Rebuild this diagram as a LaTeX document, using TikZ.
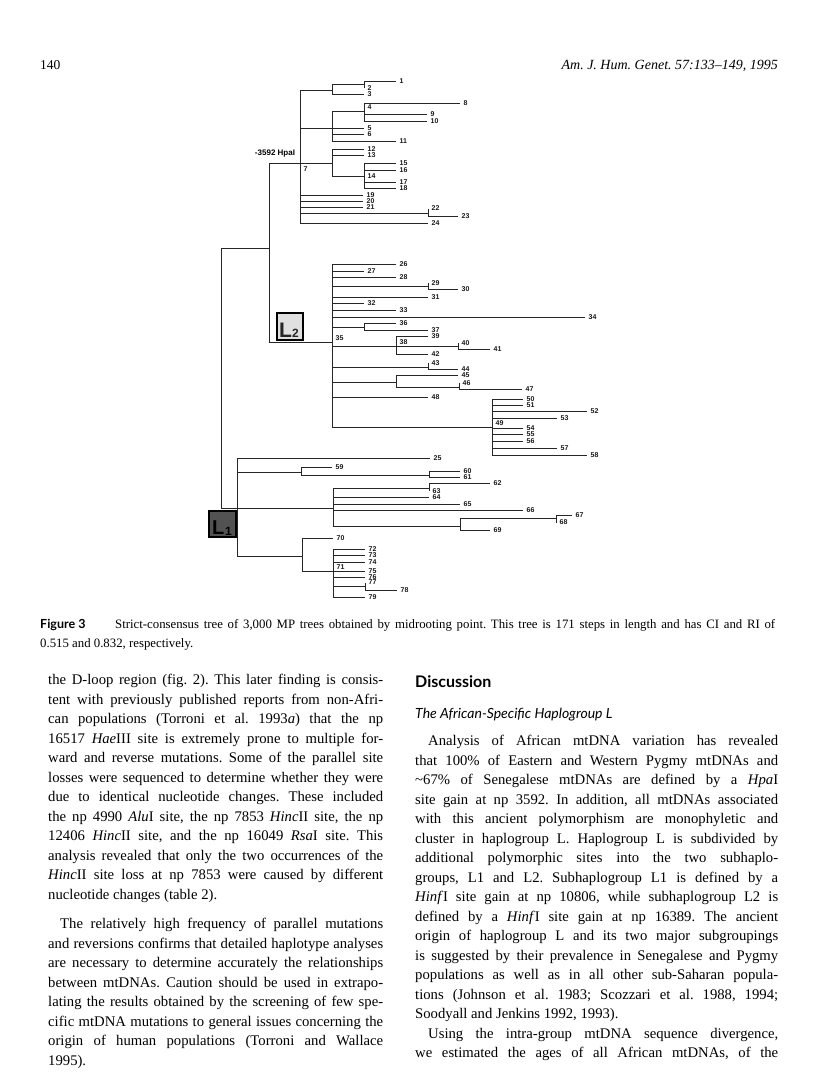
\documentclass[tikz,border=0pt]{standalone}
\usepackage{fontspec}
\setmainfont{Liberation Serif}
\newfontfamily\treefont{Liberation Sans}
\newfontfamily\headfont{Lato}
\frenchspacing
\newcommand\lf[4]{\coordinate (#1) at (#2,#3); \node[lab] (#1l) at (#1) {#4};}
\newcommand\jline[5]{\node[txt] (#1) at (#2,#3) {\makebox[#4pt][s]{#5}};}
\newcommand\pline[4]{\node[txt] (#1) at (#2,#3) {#4};}
\begin{document}
\begin{tikzpicture}[x=1pt,y=-1pt,
  edge/.style={line width=0.8pt, draw=black!85},
  lab/.style={font=\treefont\bfseries\fontsize{7}{8}\selectfont, anchor=west, inner sep=0pt, xshift=3.5pt, text=black!90},
  txt/.style={font=\fontsize{14.7}{16}\selectfont, anchor=base west, inner sep=0pt},
  capt/.style={font=\fontsize{12.8}{14}\selectfont, anchor=base west, inner sep=0pt},
]
\fill[white] (0,0) rectangle (816,1081);
\useasboundingbox (0,0) rectangle (816,1081);

% ---------- header ----------
\node[txt, font=\fontsize{13.5}{15}\selectfont] (pg) at (40,70) {140};
\node[txt, anchor=base east, font=\fontsize{14}{15}\selectfont\itshape] (jr) at (778,70) {Am. J. Hum. Genet. 57:133--149, 1995};

% ---------- tree: internal nodes ----------
\coordinate (root) at (221,378);
\coordinate (R2) at (269,248);
\coordinate (N7) at (300,163);
\coordinate (A) at (332,90);
\coordinate (A1) at (364,84);
\coordinate (B) at (332,128);
\coordinate (C) at (364,111);
\coordinate (D) at (332,163);
\coordinate (E) at (364,176);
\coordinate (N22) at (428,213);
\coordinate (N35) at (332,342);
\coordinate (N29) at (428,286);
\coordinate (N36) at (364,327);
\coordinate (N38) at (396,346);
\coordinate (N40) at (458,346);
\coordinate (N43) at (428,367);
\coordinate (N45) at (396,382);
\coordinate (N46) at (459,387);
\coordinate (N49) at (492,427);
\coordinate (L1) at (237,508);
\coordinate (N59) at (301,472);
\coordinate (N60) at (429,475);
\coordinate (N62) at (333,508);
\coordinate (N63) at (429,488);
\coordinate (N67) at (460,526);
\coordinate (N68) at (556,518);
\coordinate (N70) at (302,556);
\coordinate (N71) at (333,571.5);
\coordinate (N77) at (365,586.5);

% ---------- leaves ----------
\lf{t1}{396}{81}{1}
\lf{z2}{364}{88}{2}
\lf{t3}{364}{94}{3}
\lf{t8}{460}{103}{8}
\node[lab] (z4) at (364,107.5) {4};
\lf{t9}{427}{114}{9}
\lf{t10}{427}{121}{10}
\lf{t5}{364}{128}{5}
\lf{t6}{364}{134}{6}
\lf{t11}{396}{141}{11}
\lf{t12}{364}{149}{12}
\lf{t13}{364}{155}{13}
\node[lab] (z14) at (364,176) {14};
\lf{t15}{396}{163}{15}
\lf{t16}{396}{170}{16}
\lf{t17}{396}{182}{17}
\lf{t18}{396}{188}{18}
\node[lab] (z7) at (300,169.5) {7};
\lf{t19}{363}{195}{19}
\lf{t20}{363}{201}{20}
\lf{t21}{363}{207}{21}
\lf{z22}{428}{208.5}{22}
\lf{t23}{458}{216}{23}
\lf{t24}{428}{223}{24}
\lf{t26}{396}{264}{26}
\lf{t27}{364}{271}{27}
\lf{t28}{396}{277}{28}
\lf{z29}{428}{283}{29}
\lf{t30}{458}{289}{30}
\lf{t31}{428}{297}{31}
\lf{t32}{364}{303}{32}
\lf{t33}{396}{310}{33}
\lf{t34}{585}{317}{34}
\lf{t36}{396}{323}{36}
\lf{t37}{428}{330}{37}
\lf{t39}{428}{336}{39}
\node[lab] (z35) at (332,338) {35};
\node[lab] (z38) at (396,342.5) {38};
\lf{z40}{458}{343}{40}
\lf{t41}{490}{349}{41}
\lf{t42}{428}{354}{42}
\lf{z43}{428}{363}{43}
\lf{t44}{458}{369.5}{44}
\lf{t45}{458}{375.5}{45}
\lf{z46}{459}{383}{46}
\lf{t47}{522}{389}{47}
\lf{t48}{428}{397}{48}
\lf{t50}{523}{399}{50}
\lf{t51}{523}{405}{51}
\lf{t52}{587}{411}{52}
\lf{t53}{557}{418}{53}
\node[lab] (z49) at (492,423.5) {49};
\lf{t54}{523}{428}{54}
\lf{t55}{523}{434}{55}
\lf{t56}{523}{441}{56}
\lf{t57}{557}{448}{57}
\lf{t58}{587}{455}{58}
\lf{t25}{430}{458}{25}
\lf{t59}{332}{467}{59}
\lf{t60}{460}{471}{60}
\lf{t61}{460}{477}{61}
\lf{t62}{490}{483}{62}
\lf{z63}{429}{491}{63}
\lf{t64}{429}{497}{64}
\lf{t65}{460}{504}{65}
\lf{t66}{523}{510}{66}
\lf{t67}{572}{515}{67}
\lf{z68}{556}{522.5}{68}
\lf{t69}{490}{530}{69}
\lf{t70}{333}{538}{70}
\node[lab] (z71) at (333,567) {71};
\lf{t72}{365}{549}{72}
\lf{t73}{365}{555}{73}
\lf{t74}{365}{562}{74}
\lf{t75}{365}{571.5}{75}
\lf{t76}{365}{577}{76}
\lf{z77}{365}{582.5}{77}
\lf{t78}{397}{590}{78}
\lf{t79}{365}{597}{79}

% ---------- edges ----------
\draw[edge] (root) |- (R2) (root) |- (L1);
\draw[edge] (R2) |- (N7) (R2) |- (N35);
\draw[edge] (N7) |- (A) (N7) |- (B) (N7) |- (D) (N7) |- (t19) (N7) |- (t20) (N7) |- (t21) (N7) |- (N22) (N7) |- (t24);
\draw[edge] (A) |- (A1) (A) |- (t3);
\draw[edge] (A1) |- (t1) (A1) |- (z2);
\draw[edge] (B) |- (C) (B) |- (t5) (B) |- (t6) (B) |- (t11);
\draw[edge] (C) |- (t8) (C) |- (t9) (C) |- (t10);
\draw[edge] (D) |- (t12) (D) |- (t13) (D) |- (E);
\draw[edge] (E) |- (t15) (E) |- (t16) (E) |- (t17) (E) |- (t18);
\draw[edge] (N22) |- (z22) (N22) |- (t23);
\draw[edge] (N35) |- (t26) (N35) |- (t27) (N35) |- (t28) (N35) |- (N29) (N35) |- (t31) (N35) |- (t32) (N35) |- (t33) (N35) |- (t34) (N35) |- (N36) (N35) |- (N38) (N35) |- (N43) (N35) |- (N45) (N35) |- (t48) (N35) |- (N49);
\draw[edge] (N29) |- (z29) (N29) |- (t30);
\draw[edge] (N36) |- (t36) (N36) |- (t37);
\draw[edge] (N38) |- (t39) (N38) |- (N40) (N38) |- (t42);
\draw[edge] (N40) |- (z40) (N40) |- (t41);
\draw[edge] (N43) |- (z43) (N43) |- (t44);
\draw[edge] (N45) |- (t45) (N45) |- (N46);
\draw[edge] (N46) |- (z46) (N46) |- (t47);
\draw[edge] (N49) |- (t50) (N49) |- (t51) (N49) |- (t52) (N49) |- (t53) (N49) |- (t54) (N49) |- (t55) (N49) |- (t56) (N49) |- (t57) (N49) |- (t58);
\draw[edge] (L1) |- (t25) (L1) |- (N59) (L1) |- (N62) (L1) |- (N70);
\draw[edge] (N59) |- (t59) (N59) |- (N60);
\draw[edge] (N60) |- (t60) (N60) |- (t61);
\draw[edge] (N62) |- (N63) (N62) |- (t64) (N62) |- (t65) (N62) |- (t66) (N62) |- (N67);
\draw[edge] (N63) |- (t62) (N63) |- (z63);
\draw[edge] (N67) |- (N68) (N67) |- (t69);
\draw[edge] (N68) |- (t67) (N68) |- (z68);
\draw[edge] (N70) |- (t70) (N70) |- (N71);
\draw[edge] (N71) |- (t72) (N71) |- (t73) (N71) |- (t74) (N71) |- (t75) (N71) |- (t76) (N71) |- (N77) (N71) |- (t79);
\draw[edge] (N77) |- (z77) (N77) |- (t78);

\node[font=\treefont\bfseries\fontsize{8}{9}\selectfont, inner sep=0pt] (hpa) at (275,154) {-3592 HpaI};

% ---------- L2 / L1 boxes ----------
\node[draw=black, line width=1.2pt, fill=black!12, minimum width=26pt, minimum height=27pt, inner sep=0pt] (L2box) at (290,326.5) {};
\node[font=\treefont\bfseries\fontsize{21}{21}\selectfont, inner sep=0pt, anchor=base west, text=black!85] (L2L) at (279,337) {L};
\node[font=\treefont\bfseries\fontsize{12}{12}\selectfont, inner sep=0pt, anchor=base west, text=black!85] (L2n) at (292,337.5) {2};
\node[draw=black, line width=1.2pt, fill=black!68, minimum width=27pt, minimum height=26pt, inner sep=0pt] (L1box) at (222.5,524) {};
\node[font=\treefont\bfseries\fontsize{20}{20}\selectfont, inner sep=0pt, anchor=base west, text=black] (L1L) at (212,534.5) {L};
\node[font=\treefont\bfseries\fontsize{12}{12}\selectfont, inner sep=0pt, anchor=base west, text=black] (L1n) at (225,535) {1};

% ---------- caption ----------
\node[capt, font=\headfont\bfseries\fontsize{12.5}{13}\selectfont] (figl) at (40,628) {Figure 3};
\node[capt] (c1) at (115,628) {\makebox[660pt][s]{Strict-consensus tree of 3,000 MP trees obtained by midrooting point. This tree is 171 steps in length and has CI and RI of}};
\node[capt] (c2) at (40,647.5) {0.515 and 0.832, respectively.};

% ---------- left column ----------
\jline{a1}{48}{684.5}{335}{the D-loop region (fig. 2). This later finding is consis-}
\jline{a2}{48}{704}{335}{tent with previously published reports from non-Afri-}
\jline{a3}{48}{723.5}{335}{can populations (Torroni et al. 1993\textit{a}) that the np}
\jline{a4}{48}{743}{335}{16517 \textit{Hae}III site is extremely prone to multiple for-}
\jline{a5}{48}{762.5}{335}{ward and reverse mutations. Some of the parallel site}
\jline{a6}{48}{782}{335}{losses were sequenced to determine whether they were}
\jline{a7}{48}{801.5}{335}{due to identical nucleotide changes. These included}
\jline{a8}{48}{821}{335}{the np 4990 \textit{Alu}I site, the np 7853 \textit{Hinc}II site, the np}
\jline{a9}{48}{840.5}{335}{12406 \textit{Hinc}II site, and the np 16049 \textit{Rsa}I site. This}
\jline{a10}{48}{860}{335}{analysis revealed that only the two occurrences of the}
\jline{a11}{48}{879.5}{335}{\textit{Hinc}II site loss at np 7853 were caused by different}
\pline{a12}{48}{899}{nucleotide changes (table 2).}
\jline{b1}{60}{928.5}{323}{The relatively high frequency of parallel mutations}
\jline{b2}{48}{948}{335}{and reversions confirms that detailed haplotype analyses}
\jline{b3}{48}{967.5}{335}{are necessary to determine accurately the relationships}
\jline{b4}{48}{987}{335}{between mtDNAs. Caution should be used in extrapo-}
\jline{b5}{48}{1006.5}{335}{lating the results obtained by the screening of few spe-}
\jline{b6}{48}{1026}{335}{cific mtDNA mutations to general issues concerning the}
\jline{b7}{48}{1045.5}{335}{origin of human populations (Torroni and Wallace}
\pline{b8}{48}{1065}{1995).}

% ---------- right column ----------
\node[txt, font=\headfont\bfseries\fontsize{16}{17}\selectfont] (disc) at (415,687.5) {Discussion};
\node[txt, font=\headfont\itshape\fontsize{14}{15}\selectfont] (sub) at (415,718) {The African-Specific Haplogroup L};
\jline{r1}{428}{745.5}{350}{Analysis of African mtDNA variation has revealed}
\jline{r2}{415}{765}{363}{that 100\% of Eastern and Western Pygmy mtDNAs and}
\jline{r3}{415}{784.5}{363}{\textasciitilde67\% of Senegalese mtDNAs are defined by a \textit{Hpa}I}
\jline{r4}{415}{804}{363}{site gain at np 3592. In addition, all mtDNAs associated}
\jline{r5}{415}{823.5}{363}{with this ancient polymorphism are monophyletic and}
\jline{r6}{415}{843}{363}{cluster in haplogroup L. Haplogroup L is subdivided by}
\jline{r7}{415}{862.5}{363}{additional polymorphic sites into the two subhaplo-}
\jline{r8}{415}{882}{363}{groups, L1 and L2. Subhaplogroup L1 is defined by a}
\jline{r9}{415}{901.5}{363}{\textit{Hinf}I site gain at np 10806, while subhaplogroup L2 is}
\jline{r10}{415}{921}{363}{defined by a \textit{Hinf}I site gain at np 16389. The ancient}
\jline{r11}{415}{940.5}{363}{origin of haplogroup L and its two major subgroupings}
\jline{r12}{415}{960}{363}{is suggested by their prevalence in Senegalese and Pygmy}
\jline{r13}{415}{979.5}{363}{populations as well as in all other sub-Saharan popula-}
\jline{r14}{415}{999}{363}{tions (Johnson et al. 1983; Scozzari et al. 1988, 1994;}
\pline{r15}{415}{1018.5}{Soodyall and Jenkins 1992, 1993).}
\jline{r16}{428}{1038}{350}{Using the intra-group mtDNA sequence divergence,}
\jline{r17}{415}{1057.5}{363}{we estimated the ages of all African mtDNAs, of the}
\end{tikzpicture}
\end{document}
